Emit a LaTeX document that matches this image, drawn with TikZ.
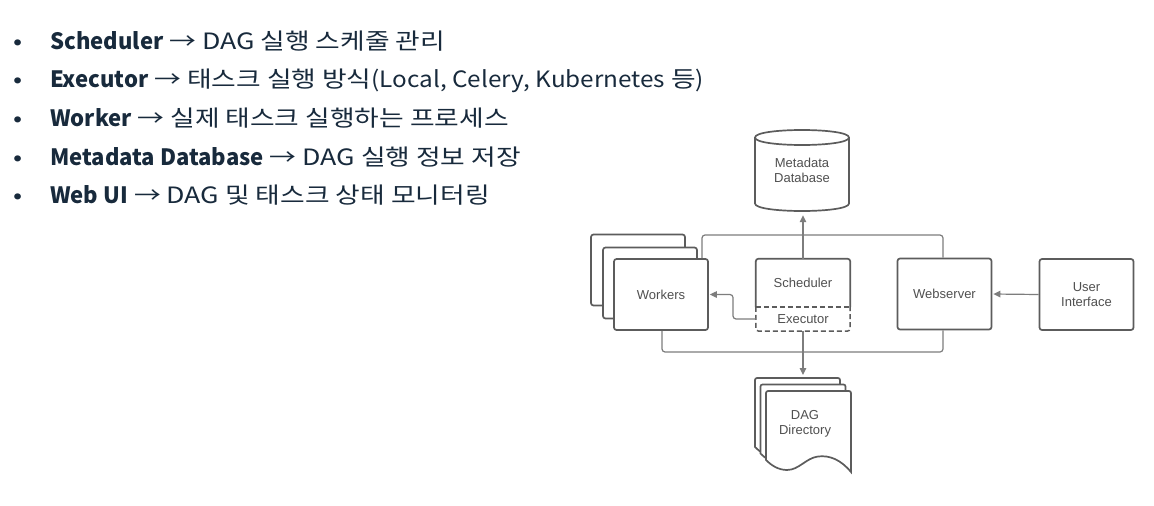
\documentclass[tikz,border=0pt]{standalone}
\usepackage{fontspec}
\setmainfont{Liberation Sans}
\newfontfamily\kr{Noto Sans CJK KR}[FakeStretch=1.19]
\newfontfamily\krlat{Noto Sans CJK KR}[FakeStretch=1.08]
\newfontfamily\krbase{Noto Sans CJK KR}[FakeStretch=0.98]
\newcommand\term[1]{{\krbase\bfseries #1}}
\newcommand\lat[1]{{\krlat #1}}
\usetikzlibrary{arrows.meta}
\definecolor{navy}{RGB}{24,42,60}
\definecolor{boxc}{RGB}{92,92,92}
\definecolor{linec}{RGB}{125,125,125}
\definecolor{txtc}{RGB}{80,80,80}
\begin{document}
\begin{tikzpicture}[x=1pt,y=-1pt,
  box/.style={draw=boxc, line width=1.7pt, rounded corners=2.5pt, fill=white, minimum width=94pt, minimum height=71pt, inner sep=0pt},
  plainbox/.style={draw=boxc, line width=1.7pt, fill=white},
  conn/.style={draw=linec, line width=1.2pt, rounded corners=3pt},
  arr/.style={conn, -{Triangle[length=7pt,width=6.5pt]}},
  lbl/.style={text=txtc, font=\fontsize{13}{14.5}\selectfont, align=center},
  bul/.style={anchor=base west, text=navy, font=\kr\fontsize{22.5}{26}\selectfont, inner sep=0pt}]
\useasboundingbox (0,0) rectangle (1154,506);
\fill[white] (0,0) rectangle (1154,506);

% bullet list
\foreach \i/\yy in {1/49,2/87,3/126,4/165,5/203}{
  \node[bul] (dot\i) at (13,\yy) {•};
}
\node[bul] (t1) at (50,49) {\term{Scheduler} → DAG 실행 스케줄 관리};
\node[bul] (t2) at (50,87) {\term{Executor} → 태스크 실행 방식\lat{(Local, Celery, Kubernetes} 등\lat{)}};
\node[bul] (t3) at (50,126) {\term{Worker} → 실제 태스크 실행하는 프로세스};
\node[bul] (t4) at (50,165) {\term{Metadata Database} → DAG 실행 정보 저장};
\node[bul] (t5) at (50,203) {\term{Web UI} → DAG 및 태스크 상태 모니터링};

% metadata database (cylinder)
\filldraw[plainbox] (755,137.5) -- (755,203.5) .. controls (755,213.5) and (849,213.5) .. (849,203.5) -- (849,137.5) .. controls (849,127.5) and (755,127.5) .. (755,137.5) -- cycle;
\draw[draw=boxc, line width=1.7pt] (755,137.5) .. controls (755,147.5) and (849,147.5) .. (849,137.5);
\node[lbl, minimum width=94pt, minimum height=81pt, inner sep=0pt] (db) at (802,170.5) {Metadata\\Database};

% workers stack
\node[box] (w3) at (638,270) {};
\node[box] (w2) at (650,283) {};
\node[box, lbl] (w1) at (661,294.5) {Workers};

% scheduler + executor
\node[lbl, minimum width=94pt, minimum height=48pt, inner sep=0pt] (sch) at (803,283) {Scheduler};
\node[lbl, minimum width=94pt, minimum height=24pt, inner sep=0pt] (exe) at (803,319) {Executor};
\draw[draw=boxc, line width=1.7pt, rounded corners=2.5pt] (sch.south west) -- (sch.north west) -- (sch.north east) -- (sch.south east);
\draw[draw=boxc, line width=1.5pt, dash pattern=on 5pt off 3pt] (exe.north west) -- (exe.north east);
\draw[draw=boxc, line width=1.5pt, dash pattern=on 5pt off 3pt, rounded corners=3pt] (exe.north west) -- (exe.south west) -- (exe.south east) -- (exe.north east);

% webserver and UI
\node[box, lbl] (ws) at (944.5,294) {Webserver};
\node[box, lbl] (ui) at (1086.5,294.5) {User\\Interface};

% DAG directory (stacked documents)
\foreach \dx/\dy in {755/378, 760.5/384.5}{
  \begin{scope}[shift={(\dx,\dy)}]
    \filldraw[plainbox, rounded corners=2pt] (0,0) -- (85,0) [sharp corners] -- (85,81) .. controls (75,69) and (64,64) .. (52,65.5) .. controls (40,67) and (33,79) .. (21,79) .. controls (12,79) and (5,74) .. (0,69) [rounded corners=2pt] -- cycle;
  \end{scope}
}
\begin{scope}[shift={(766,391)}]
  \filldraw[plainbox, rounded corners=2pt] (0,0) -- (85,0) [sharp corners] -- (85,81) .. controls (75,69) and (64,64) .. (52,65.5) .. controls (40,67) and (33,79) .. (21,79) .. controls (12,79) and (5,74) .. (0,69) [rounded corners=2pt] -- cycle;
\end{scope}
\node[lbl, minimum width=85pt, minimum height=50pt, inner sep=0pt] (dag) at (805,424) {DAG\\Directory};
\coordinate (dagtop) at (803,378);

% bus lines
\coordinate (busTL) at (702,235);
\coordinate (busTR) at (943,235);
\coordinate (busBL) at (662,352);
\coordinate (busBR) at (943,352);
\draw[conn] (w1.north -| busTL) -- (busTL) -- (busTR) -- (ws.north -| busTR);
\draw[conn] (w1.south -| busBL) -- (busBL) -- (busBR) -- (ws.south -| busBR);

% arrows
\draw[arr, shorten >=4pt] (sch.north) -- (sch.north |- db.south);
\coordinate (ew) at (733,294.5);
\draw[arr, shorten >=1pt] (exe.west) -| (ew) -- (w1.east);
\draw[arr, shorten >=3pt] (exe.south) -- (dagtop);
\draw[arr, shorten >=1pt] (ui.west) -- (ws.east);
\end{tikzpicture}
\end{document}
